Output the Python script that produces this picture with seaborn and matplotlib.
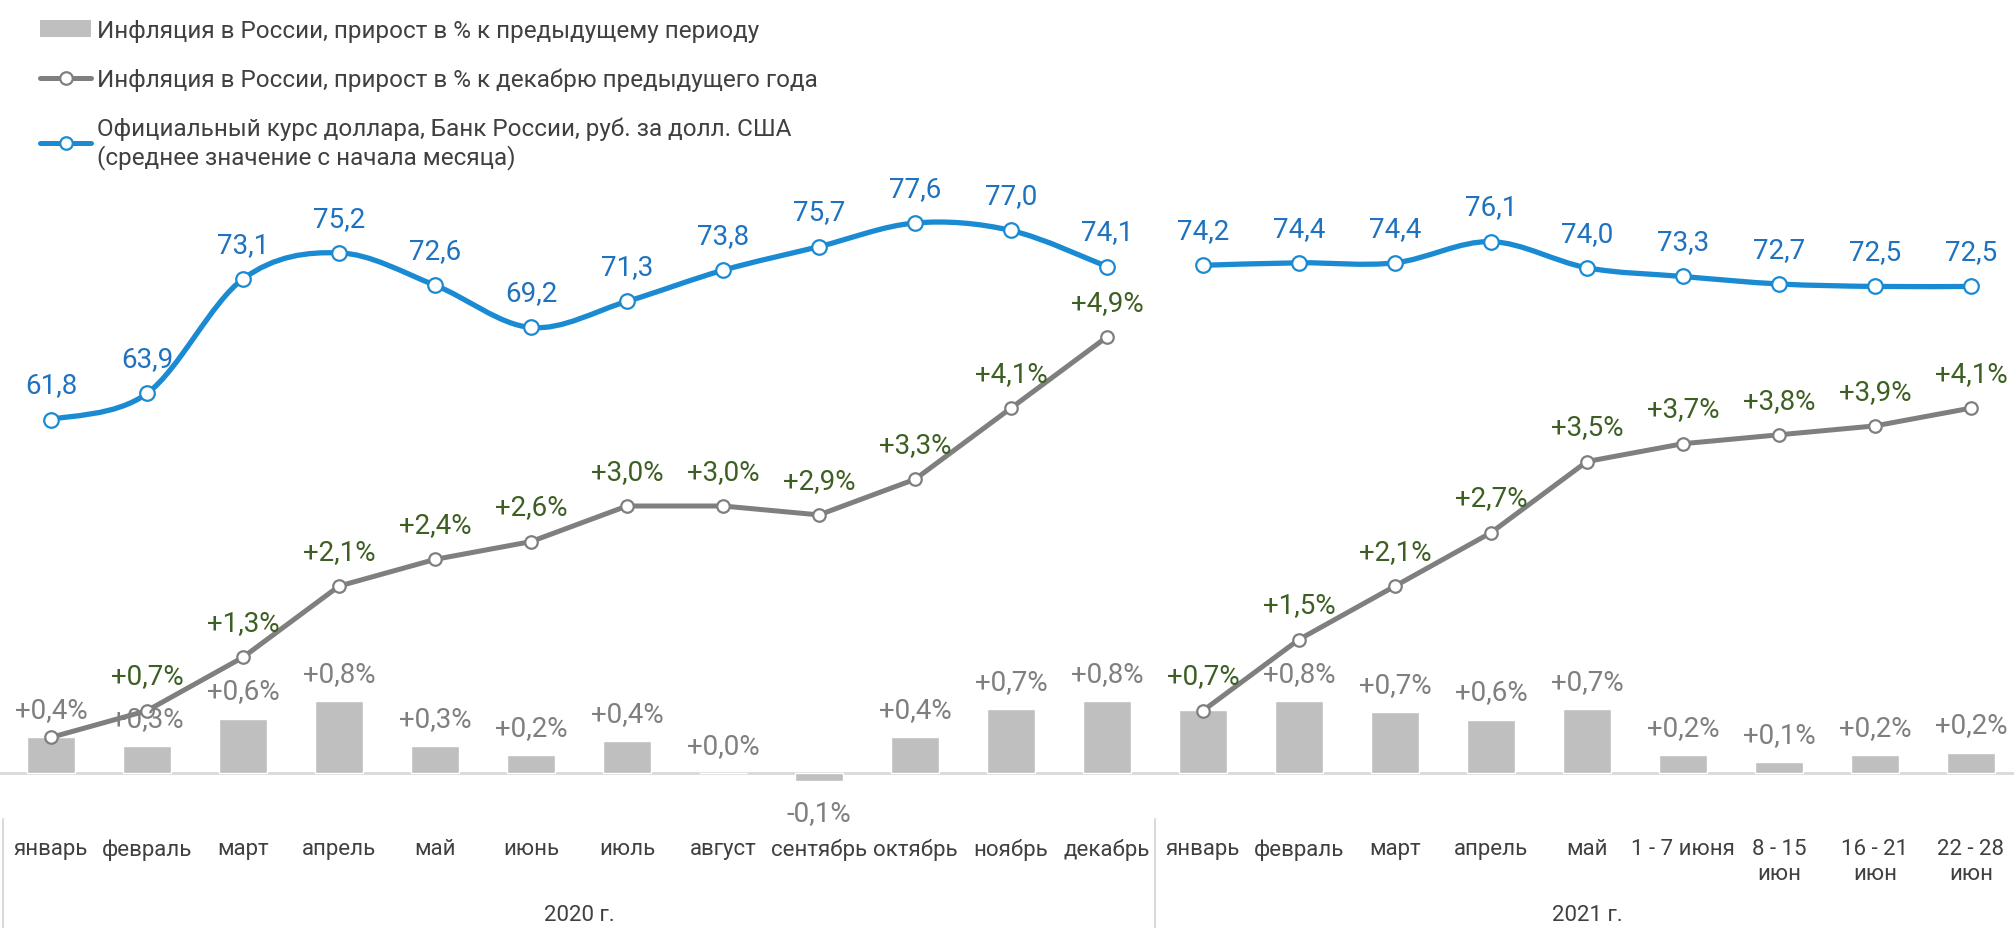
import numpy as np
import pandas as pd
import matplotlib
matplotlib.use("Agg")
import matplotlib.pyplot as plt
import seaborn as sns
from matplotlib.path import Path
from matplotlib.patches import PathPatch, Patch
from matplotlib.lines import Line2D
import matplotlib.transforms as mtransforms

# --- data ------------------------------------------------------------------
periods = ["январь", "февраль", "март", "апрель", "май", "июнь", "июль",
           "август", "сентябрь", "октябрь", "ноябрь", "декабрь",
           "январь", "февраль", "март", "апрель", "май", "1 - 7 июня",
           "8 - 15\nиюн", "16 - 21\nиюн", "22 - 28\nиюн"]
years = ["2020 г."] * 12 + ["2021 г."] * 9

# inflation, % to previous period (bars)
mom = [0.40, 0.30, 0.61, 0.81, 0.30, 0.20, 0.36, 0.0, -0.09, 0.40, 0.72, 0.81,
       0.71, 0.81, 0.68, 0.60, 0.72, 0.20, 0.12, 0.20, 0.23]
# inflation, % to December of previous year (grey line)
ytd = [0.4, 0.7, 1.3, 2.1, 2.4, 2.6, 3.0, 3.0, 2.9, 3.3, 4.1, 4.9,
       0.7, 1.5, 2.1, 2.7, 3.5, 3.7, 3.8, 3.9, 4.1]
# USD/RUB official rate (blue line)
usd = [61.8, 63.9, 73.1, 75.2, 72.6, 69.2, 71.3, 73.8, 75.7, 77.6, 77.0, 74.1,
       74.2, 74.4, 74.4, 76.1, 74.0, 73.3, 72.7, 72.5, 72.5]

no_bar_label = [12]   # label hidden in the original
no_ytd_label = [0]

df = pd.DataFrame({"pos": np.arange(len(periods)), "year": years,
                   "mom": mom, "ytd": ytd, "usd": usd})

BAR = "#bfbfbf"
GREY = "#7f7f7f"
BLUE = "#1a8bd2"
BLUE_TXT = "#1f72bf"
GREEN = "#3d5f22"
TXT = "#404040"
SEP = "#d9d9d9"


def fmt(v, sign=True):
    s = f"{v:+.1f}" if sign else f"{v:.1f}"
    return s.replace(".", ",")


sns.set_theme(style="white")
plt.rcParams["font.family"] = ["Roboto", "DejaVu Sans"]

fig = plt.figure(figsize=(20.15, 9.29), dpi=100)
ax = fig.add_axes([0, 109 / 929, 1, 820 / 929])

sns.barplot(data=df, x="pos", y="mom", color=BAR, saturation=1, width=0.5,
            errorbar=None, ax=ax, zorder=1)
sns.lineplot(data=df, x="pos", y="ytd", units="year", estimator=None,
             color=GREY, lw=3.6, marker="o", ms=9, mfc="white", mec=GREY,
             mew=1.6, ax=ax, legend=False, zorder=3)

ax.axhline(0, color=SEP, lw=2, zorder=0)
ax.set_xlim(-51 / 96, -51 / 96 + 2015 / 96)
ax.set_ylim(-46 / 89, -46 / 89 + 820 / 89)

# bar labels
for i, v in enumerate(mom):
    if i in no_bar_label:
        continue
    off = 20 if v >= 0 else -23
    ax.annotate(fmt(v) + "%", (i, v), xytext=(0, off), textcoords="offset points",
                ha="center", va="center", fontsize=20, color=GREY)
# cumulative labels
for i, v in enumerate(ytd):
    if i in no_ytd_label:
        continue
    ax.annotate(fmt(v) + "%", (i, v), xytext=(0, 25), textcoords="offset points",
                ha="center", va="center", fontsize=20, color=GREEN, zorder=4)

ax.set_xticks(range(len(periods)))
ax.set_xticklabels(periods)
ax.tick_params(axis="x", length=0, pad=14, labelsize=16, labelcolor=TXT)
ax.set_yticks([])
ax.set_xlabel("")
ax.set_ylabel("")
for s in ax.spines.values():
    s.set_visible(False)

# year captions and separators
trans = mtransforms.blended_transform_factory(ax.transData, ax.transAxes)
for y in ["2020 г.", "2021 г."]:
    xm = df.loc[df.year == y, "pos"].mean()
    ax.text(xm, -0.117, y, transform=trans, ha="center", va="center",
            fontsize=16, color=TXT)
for xs in [-0.5, 11.5]:
    ax.axvline(xs, ymin=-0.133, ymax=0, clip_on=False, color=SEP, lw=1.5)

# USD rate on its own scale, smooth curve
ax2 = ax.twinx()
ax2.set_ylim(77.6 - 596 / 12.44, 77.6 - 596 / 12.44 + 820 / 12.44)
ax2.set_yticks([])
for s in ax2.spines.values():
    s.set_visible(False)

for y, g in df.groupby("year"):
    x = g.pos.to_numpy(float)
    v = g.usd.to_numpy(float)
    pts = np.column_stack([x, v])
    ext = np.vstack([pts[0], pts, pts[-1]])
    verts = [pts[0]]
    codes = [Path.MOVETO]
    for k in range(len(pts) - 1):
        p0, p1, p2, p3 = ext[k], ext[k + 1], ext[k + 2], ext[k + 3]
        verts += [p1 + (p2 - p0) / 6, p2 - (p3 - p1) / 6, p2]
        codes += [Path.CURVE4] * 3
    ax2.add_patch(PathPatch(Path(verts, codes), fill=False, ec=BLUE, lw=3.8,
                            capstyle="round", zorder=2))
sns.scatterplot(data=df, x="pos", y="usd", ax=ax2, s=110, color="white",
                edgecolor=BLUE, linewidth=1.6, zorder=3, legend=False)
for i, v in enumerate(usd):
    ax2.annotate(fmt(v, False), (i, v), xytext=(0, 25), textcoords="offset points",
                 ha="center", va="center", fontsize=20, color=BLUE_TXT)
ax2.set_xlim(ax.get_xlim())
ax2.set_ylabel("")

# legend
handles = [
    Patch(facecolor=BAR, edgecolor="none"),
    Line2D([], [], color=GREY, lw=3.6, marker="o", ms=9, mfc="white", mec=GREY, mew=1.6),
    Line2D([], [], color=BLUE, lw=3.6, marker="o", ms=9, mfc="white", mec=BLUE, mew=1.6),
]
labels = [
    "Инфляция в России, прирост в % к предыдущему периоду",
    "Инфляция в России, прирост в % к декабрю предыдущего года",
    "Официальный курс доллара, Банк России, руб. за долл. США\n(среднее значение с начала месяца)",
]
fig.legend(handles, labels, loc="upper left", bbox_to_anchor=(28 / 2015, 1 - 8 / 929),
           frameon=False, fontsize=17.5, labelcolor=TXT, borderpad=0,
           handlelength=2.1, handletextpad=0.25, labelspacing=1.05)

fig.savefig("out.png", dpi=100)
